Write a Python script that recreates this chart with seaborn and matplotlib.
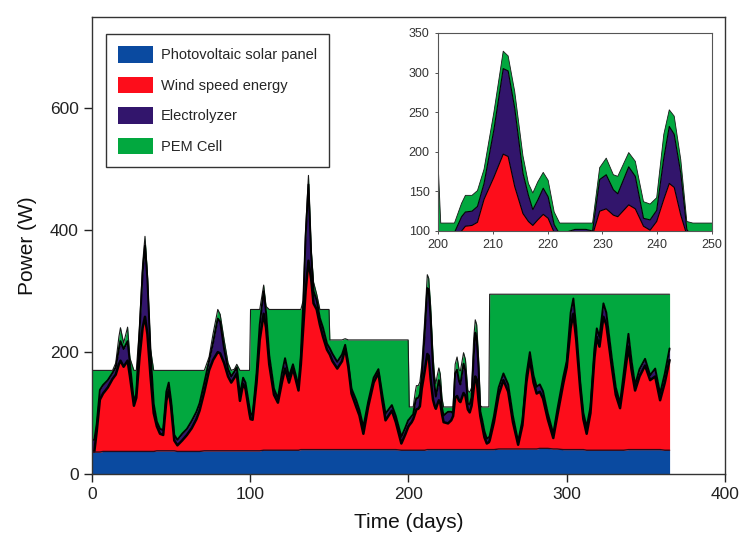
import matplotlib
matplotlib.use("Agg")
import matplotlib.pyplot as plt
import numpy as np
import seaborn as sns
from matplotlib.patches import Patch

# Day of the year at each sample
days = [
    0, 1.5, 3, 5, 7, 10, 13, 15, 17, 18,
    20, 22.5, 24, 26.5, 28, 30, 32, 33.5, 35, 37,
    39, 41, 43, 45, 47, 48.5, 50, 52, 54, 57,
    60, 63, 66, 68, 71, 74, 76.5, 79.5, 81, 83.5,
    86, 88, 90, 91.5, 93.5, 95.5, 97, 99.6, 100.2, 101.5,
    104, 106, 108.5, 110, 112, 115, 117.5, 120, 122, 124.5,
    127, 130.5, 132, 133.5, 135, 136.8, 138.5, 140, 142, 144,
    146, 148.5, 149.8, 150.3, 152, 155, 158, 160, 162, 164,
    167, 169, 171.5, 174.5, 178, 181, 183.5, 185.5, 189.5, 192,
    195.5, 198, 199.8, 200.5, 202, 203, 204.3, 205, 206.2, 207.2,
    208.4, 210.2, 211.9, 212.8, 214, 215.5, 216.5, 217.3, 218.2, 219.2,
    220.1, 221.2, 222.2, 225, 227, 228.2, 229.5, 230.7, 232, 232.8,
    234.8, 236, 237.5, 238.7, 239.9, 241.2, 242.2, 243.1, 244.3, 245.4,
    246.5, 248, 249.5, 250.8, 251.3, 254, 257, 260, 263, 266,
    269.3, 272, 274.5, 276.7, 279, 281, 283, 285, 288, 291.5,
    294, 297.8, 300, 302.5, 304.2, 306, 308.5, 310.5, 312.6, 315,
    317.5, 319, 320.7, 323.2, 325, 328.5, 331, 333.7, 336, 339,
    341, 343.2, 346, 349.5, 352.7, 355.9, 359, 362, 365,
]

# Cumulative power levels (W): top edge of each stacked layer
pv_top = [
    36, 36, 36, 36, 37, 37, 37, 37, 37, 37,
    37, 37, 37, 37, 37, 37, 37, 37, 37, 37,
    37, 38, 38, 38, 38, 38, 38, 38, 37, 37,
    37, 37, 37, 37, 38, 38, 38, 38, 38, 38,
    38, 38, 38, 38, 38, 38, 38, 38, 38, 38,
    38, 38, 39, 39, 39, 39, 39, 39, 39, 39,
    39, 39, 40, 40, 40, 40, 40, 40, 40, 40,
    40, 40, 40, 40, 40, 40, 40, 40, 40, 40,
    40, 40, 40, 40, 40, 40, 40, 40, 40, 40,
    39, 39, 39, 39, 39, 39, 39, 39, 39, 39,
    39, 39, 40, 40, 40, 40, 40, 40, 40, 40,
    40, 40, 40, 40, 40, 40, 40, 40, 40, 40,
    40, 40, 40, 40, 40, 40, 40, 40, 40, 40,
    40, 40, 40, 40, 40, 40, 41, 41, 41, 41,
    41, 41, 41, 41, 41, 41, 42, 42, 42, 41,
    41, 40, 40, 40, 40, 40, 40, 40, 39, 39,
    39, 39, 39, 39, 39, 39, 39, 39, 39, 40,
    40, 40, 40, 40, 40, 40, 40, 39, 39,
]

wind_top = [
    37, 37, 70, 122, 132, 142, 156, 163, 180, 186,
    176, 186, 160, 112, 125, 190, 240, 258, 230, 160,
    100, 78, 66, 64, 120, 138, 110, 55, 47, 55,
    64, 75, 90, 104, 135, 170, 187, 200, 198, 182,
    160, 150, 158, 165, 120, 148, 140, 98, 90, 89,
    150, 220, 263, 240, 180, 130, 117, 150, 173, 150,
    173, 137, 180, 240, 300, 350, 320, 280, 270, 245,
    225, 204, 198, 196, 185, 173, 185, 206, 175, 132,
    110, 96, 66, 110, 150, 166, 120, 88, 104, 85,
    50, 65, 77, 80, 85, 90, 100, 106, 107, 111,
    140, 168, 197, 194, 156, 122, 112, 107, 114, 121,
    116, 98, 85, 83, 88, 95, 125, 128, 120, 118,
    133, 128, 106, 101, 112, 140, 160, 155, 120, 95,
    80, 60, 50, 52, 55, 85, 130, 154, 135, 85,
    48, 80, 150, 189, 150, 132, 135, 124, 90, 59,
    95, 148, 175, 240, 263, 220, 140, 90, 66, 100,
    190, 225, 209, 258, 245, 176, 130, 108, 150, 209,
    170, 137, 160, 178, 154, 160, 121, 150, 187,
]

electrolyzer_top = [
    56, 56, 82, 138, 146, 154, 166, 175, 205, 218,
    205, 218, 180, 118, 132, 230, 330, 375, 320, 200,
    115, 86, 74, 72, 135, 150, 120, 64, 56, 66,
    74, 87, 102, 116, 150, 185, 215, 255, 250, 205,
    172, 160, 168, 175, 130, 158, 150, 108, 100, 96,
    165, 245, 300, 265, 195, 140, 124, 165, 190, 160,
    180, 145, 195, 280, 390, 475, 360, 300, 285, 256,
    240, 214, 208, 206, 197, 184, 196, 212, 182, 140,
    121, 105, 77, 118, 158, 172, 130, 99, 113, 95,
    61, 76, 88, 90, 95, 98, 118, 124, 125, 131,
    160, 228, 305, 302, 255, 173, 145, 127, 139, 154,
    143, 108, 96, 102, 102, 100, 165, 171, 152, 147,
    181, 169, 116, 114, 126, 192, 232, 222, 173, 102,
    90, 70, 58, 60, 62, 95, 142, 165, 147, 95,
    53, 88, 162, 200, 162, 143, 147, 136, 100, 66,
    105, 159, 185, 265, 288, 240, 152, 100, 77, 110,
    205, 239, 225, 280, 265, 190, 142, 116, 165, 230,
    185, 146, 172, 189, 162, 173, 132, 165, 206,
]

pem_top = [
    170, 170, 170, 170, 170, 170, 170, 182, 225, 240,
    215, 241, 190, 170, 170, 240, 345, 390, 330, 205,
    170, 170, 170, 170, 170, 170, 170, 170, 170, 170,
    170, 170, 170, 170, 170, 192, 230, 270, 262, 220,
    182, 170, 172, 180, 170, 170, 170, 170, 270, 270,
    270, 270, 310, 275, 270, 270, 270, 270, 270, 270,
    270, 270, 270, 285, 400, 490, 370, 315, 295, 270,
    270, 270, 270, 220, 220, 220, 220, 222, 220, 220,
    220, 220, 220, 220, 220, 220, 220, 220, 220, 220,
    220, 220, 220, 110, 110, 110, 135, 145, 145, 151,
    178, 250, 327, 321, 276, 195, 160, 148, 162, 174,
    164, 124, 110, 110, 110, 110, 180, 192, 171, 169,
    199, 188, 137, 134, 142, 222, 253, 245, 190, 112,
    110, 110, 110, 110, 295, 295, 295, 295, 295, 295,
    295, 295, 295, 295, 295, 295, 295, 295, 295, 295,
    295, 295, 295, 295, 295, 295, 295, 295, 295, 295,
    295, 295, 295, 295, 295, 295, 295, 295, 295, 295,
    295, 295, 295, 295, 295, 295, 295, 295, 295,
]

series_labels = ["Photovoltaic solar panel", "Wind speed energy",
                 "Electrolyzer", "PEM Cell"]
series_colors = ["#0a4aa0", "#fd0d1b", "#32156c", "#02a83f"]

x_ticks = [0, 100, 200, 300, 400]
y_ticks = [0, 200, 400, 600]
inset_x_ticks = [200, 210, 220, 230, 240, 250]
inset_y_ticks = [100, 150, 200, 250, 300, 350]

sns.set_style("ticks")
plt.rcParams["font.family"] = ["Liberation Sans", "DejaVu Sans"]


def draw_stack(axis, edge_widths):
    levels = [np.zeros(len(days)), pv_top, wind_top, electrolyzer_top, pem_top]
    for i in range(4):
        axis.fill_between(days, levels[i], levels[i + 1],
                          color=series_colors[i], linewidth=0, zorder=1)
    edge_colors = ["#2a0a1a", "black", "black", "#1a1a1a"]
    for i in [3, 2, 1, 0]:
        sns.lineplot(x=days, y=levels[i + 1], ax=axis, color=edge_colors[i],
                     linewidth=edge_widths[i], estimator=None, sort=False,
                     legend=False, zorder=2)


fig = plt.figure(figsize=(7.4, 5.44), dpi=100)
ax = fig.add_axes([0.1243, 0.1287, 0.8554, 0.8401])
draw_stack(ax, [1.0, 1.8, 1.4, 0.8])

ax.set_xlim(0, 400)
ax.set_ylim(0, 750)
ax.set_xticks(x_ticks)
ax.set_yticks(y_ticks)
ax.tick_params(direction="out", length=6, width=1, labelsize=12.5,
               colors="#222222", top=False, right=False)
for sp in ax.spines.values():
    sp.set_visible(True)
    sp.set_color("#333333")
    sp.set_linewidth(1.0)
ax.set_xlabel("Time (days)", fontsize=15, labelpad=8, color="#111111")
ax.set_ylabel("Power (W)", fontsize=15, labelpad=9, color="#111111")

handles = [Patch(facecolor=c, edgecolor="none") for c in series_colors]
leg = ax.legend(handles, series_labels, loc="upper left",
                bbox_to_anchor=(0.022, 0.963), borderaxespad=0,
                fontsize=10.5, handlelength=2.4, handleheight=1.35,
                labelspacing=0.97, handletextpad=0.5, borderpad=0.85,
                fancybox=False, framealpha=1, edgecolor="#333333")
leg.get_frame().set_linewidth(1.0)

# Zoomed view of days 200-250
inset = fig.add_axes([0.5919, 0.5754, 0.3703, 0.3640])
inset.set_facecolor("white")
draw_stack(inset, [0.6, 0.8, 0.8, 0.6])
inset.set_xlim(200, 250)
inset.set_ylim(100, 350)
inset.set_xticks(inset_x_ticks)
inset.set_yticks(inset_y_ticks)
inset.tick_params(direction="out", length=2.5, width=0.6, labelsize=9,
                  colors="#333333", top=False, right=False)
for sp in inset.spines.values():
    sp.set_visible(True)
    sp.set_color("#555555")
    sp.set_linewidth(0.8)
inset.set_xlabel("")
inset.set_ylabel("")

fig.savefig("out.png", dpi=100, facecolor="white")
